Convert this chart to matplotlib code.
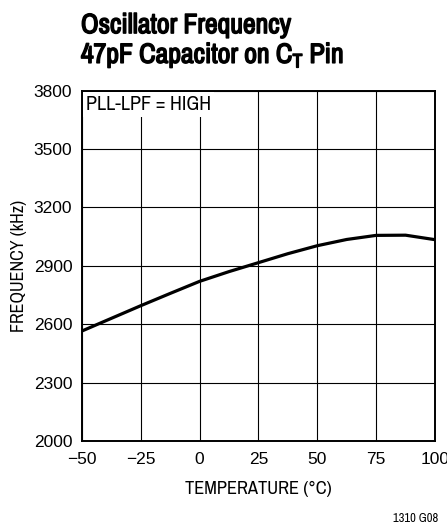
import matplotlib
matplotlib.use('Agg')
from matplotlib import pyplot as plt
from matplotlib import patheffects as pe

plt.rcParams['font.family'] = ['Archivo Narrow', 'DejaVu Sans']
plt.rcParams['mathtext.fontset'] = 'custom'
plt.rcParams['mathtext.rm'] = 'Archivo Narrow'

# data
temperature = [-50, -37.5, -25, -12.5, 0, 12.5, 25, 37.5, 50, 62.5, 75, 87.5, 100]
frequency = [2565, 2630, 2695, 2758, 2820, 2870, 2916, 2962, 3003, 3035, 3056, 3057, 3034]
x_ticks = [-50, -25, 0, 25, 50, 75, 100]
x_labels = ['\u221250', '\u221225', '0', '25', '50', '75', '100']
y_ticks = [2000, 2300, 2600, 2900, 3200, 3500, 3800]

fig = plt.figure(figsize=(4.47, 5.25), dpi=100)
ax = fig.add_axes([0.1834, 0.16, 0.7897, 0.6676])

ax.plot(temperature, frequency, color='black', lw=2.3, solid_capstyle='butt', zorder=3)
ax.set_xlim(-50, 100)
ax.set_ylim(2000, 3800)
ax.set_xticks(x_ticks)
ax.set_xticklabels(x_labels)
ax.set_yticks(y_ticks)
ax.tick_params(length=0, labelsize=12.5, pad=7)
ax.tick_params(axis='x', pad=8)
for lab in ax.get_xticklabels() + ax.get_yticklabels():
    lab.set_family(['Liberation Sans', 'DejaVu Sans'])
ax.grid(True, color='black', lw=0.8)
for s in ax.spines.values():
    s.set_linewidth(1.4)

ax.set_xlabel('TEMPERATURE (\u00b0C)', fontsize=13.3, labelpad=10)
ax.set_ylabel('FREQUENCY (kHz)', fontsize=13, labelpad=5)

ax.text(0.012, 0.96, 'PLL-LPF = HIGH', transform=ax.transAxes, fontsize=14.5,
        va='center', ha='left', zorder=4,
        bbox=dict(facecolor='white', edgecolor='none', pad=2))

bold = [pe.withStroke(linewidth=1.1, foreground='black')]
fig.text(0.181, 0.937, 'Oscillator Frequency', fontsize=20,
         ha='left', va='baseline', path_effects=bold)
fig.text(0.181, 0.88, r'47pF Capacitor on C$_\mathrm{T}$ Pin', fontsize=20,
         ha='left', va='baseline', path_effects=bold)
fig.text(0.98, 0.005, '1310 G08', fontsize=9, ha='right', va='baseline')

plt.savefig('out.png', dpi=100)
